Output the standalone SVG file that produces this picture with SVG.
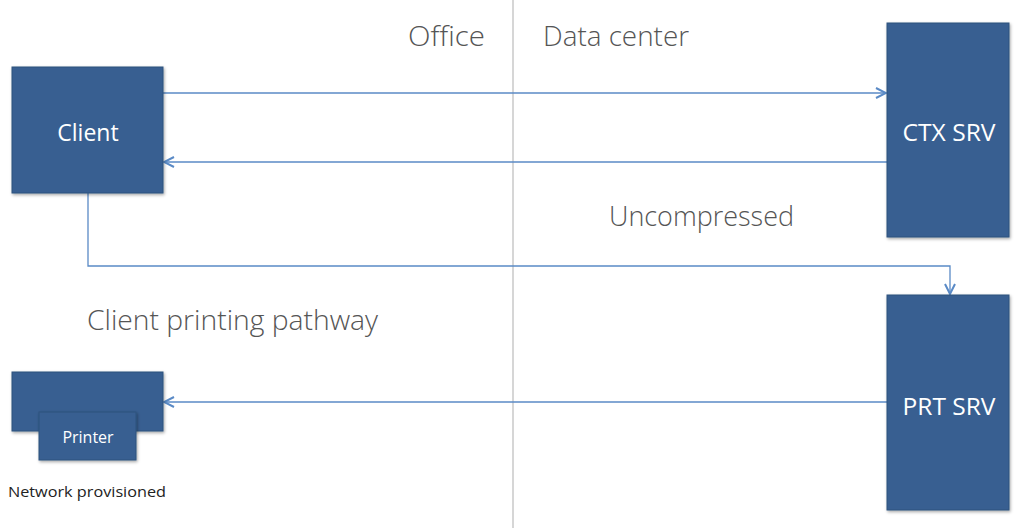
<svg xmlns="http://www.w3.org/2000/svg" width="1024" height="528" viewBox="0 0 1024 528">
<style>
.box{fill:#375F91;stroke:#2F527D;stroke-width:1}
.bt{fill:#fff;font-family:"Open Sans","Liberation Sans",sans-serif;text-anchor:middle}
.lbl{fill:#555;font-family:"Open Sans","Liberation Sans",sans-serif;font-weight:300;font-size:27px}
.con{fill:none;stroke:#5A8AC6;stroke-width:1.3}
</style>
<defs>
<filter id="sh" x="-10%" y="-10%" width="130%" height="130%"><feDropShadow dx="1" dy="1.5" stdDeviation="1.5" flood-color="#000" flood-opacity="0.35"/></filter>
<marker id="ah" viewBox="0 0 12 12" refX="11" refY="6" markerWidth="12" markerHeight="12" markerUnits="userSpaceOnUse" orient="auto"><path d="M1,1 L11,6 L1,11" fill="none" stroke="#5A8AC6" stroke-width="2"/></marker>
</defs>
<line x1="513" y1="0" x2="513" y2="528" stroke="#bbb" stroke-width="1.2"/>
<text class="lbl" x="408" y="46" textLength="77" lengthAdjust="spacingAndGlyphs">Office</text>
<text class="lbl" x="543" y="46" textLength="146" lengthAdjust="spacingAndGlyphs">Data center</text>
<text class="lbl" x="609" y="226" textLength="185" lengthAdjust="spacingAndGlyphs">Uncompressed</text>
<text class="lbl" x="87" y="330" textLength="291" lengthAdjust="spacingAndGlyphs">Client printing pathway</text>
<text x="8" y="497" fill="#222" font-family="Open Sans,Liberation Sans,sans-serif" font-size="15" textLength="158" lengthAdjust="spacingAndGlyphs">Network provisioned</text>
<g id="connectors">
<line class="con" x1="163" y1="93" x2="886" y2="93" marker-end="url(#ah)"/>
<line class="con" x1="887" y1="162" x2="164" y2="162" marker-end="url(#ah)"/>
<polyline class="con" points="88,193 88,266 950,266 950,294" marker-end="url(#ah)"/>
<line class="con" x1="887" y1="402" x2="164" y2="402" marker-end="url(#ah)"/>
</g>
<g id="client"><rect class="box" filter="url(#sh)" x="12" y="67" width="151" height="126"/><text class="bt" x="88" y="141" font-size="23">Client</text></g>
<g id="ctx"><rect class="box" filter="url(#sh)" x="887" y="23" width="122" height="214"/><text class="bt" x="949" y="141" font-size="24" textLength="93" lengthAdjust="spacingAndGlyphs">CTX SRV</text></g>
<g id="prt"><rect class="box" filter="url(#sh)" x="887" y="295" width="122" height="215"/><text class="bt" x="949" y="415" font-size="24" textLength="93" lengthAdjust="spacingAndGlyphs">PRT SRV</text></g>
<g id="printer"><rect class="box" filter="url(#sh)" x="12" y="372" width="151" height="59"/><rect class="box" filter="url(#sh)" x="39" y="412" width="97" height="48"/><text class="bt" x="88" y="443" font-size="16">Printer</text></g>
</svg>
